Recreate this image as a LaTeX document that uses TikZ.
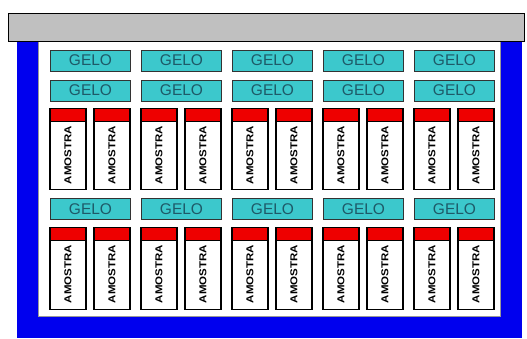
\documentclass[tikz,border=0pt]{standalone}
\usepackage{fontspec}
\setmainfont{Liberation Sans}
\usepackage{graphicx}
\definecolor{gelofill}{HTML}{3CC8CC}
\definecolor{gelotext}{HTML}{1E5A68}
\definecolor{frameblue}{HTML}{0000EE}
\definecolor{capred}{HTML}{EE0000}
\definecolor{lidgray}{HTML}{C0C0C0}
\begin{document}
\begin{tikzpicture}[x=1pt,y=-1pt,
  gelo/.style={draw=black!80, line width=1pt, fill=gelofill, text=gelotext, minimum width=80pt, minimum height=21pt, inner sep=0pt, font=\fontsize{15.5}{15.5}\selectfont},
  tubebody/.style={draw=black, line width=1.4pt, fill=white, minimum width=36pt, minimum height=81pt, inner sep=0pt, anchor=north},
  tubecap/.style={draw=black, line width=1.4pt, fill=capred, minimum width=36pt, minimum height=13pt, inner sep=0pt, anchor=north},
  amostra/.style={rotate=90, inner sep=0pt, font=\bfseries\fontsize{10}{10}\selectfont}]
\useasboundingbox (0,0) rectangle (527,338);
\fill[white] (0,0) rectangle (527,338);
\fill[frameblue] (17,41) rectangle (522,338);
\draw[fill=white, draw=black!40, line width=0.6pt] (38,41) rectangle (500,316);
\draw[fill=lidgray, line width=1pt] (8,13) rectangle (524,41);
\foreach \i in {0,...,4}{
  \node[gelo] (ga\i) at (90.5+91*\i, 60.5) {GELO};
  \node[gelo] (gb\i) at (90.5+91*\i, 90.5) {GELO};
  \node[gelo] (gc\i) at (90.5+91*\i, 209) {GELO};
}
\foreach \j in {0,...,9}{
  \pgfmathsetmacro{\xc}{68+91*int(\j/2)+44*mod(\j,2)}
  % upper tubes
  \node[tubebody] (ta\j) at (\xc,108) {};
  \node[tubecap] (ca\j) at (ta\j.north) {};
  \node[amostra] (la\j) at (\xc,155) {\scalebox{1.15}[1]{AMOSTRA}};
  % lower tubes
  \node[tubebody, minimum height=82pt] (tb\j) at (\xc,227) {};
  \node[tubecap] (cb\j) at (tb\j.north) {};
  \node[amostra] (lb\j) at (\xc,274) {\scalebox{1.15}[1]{AMOSTRA}};
}
\end{tikzpicture}
\end{document}
